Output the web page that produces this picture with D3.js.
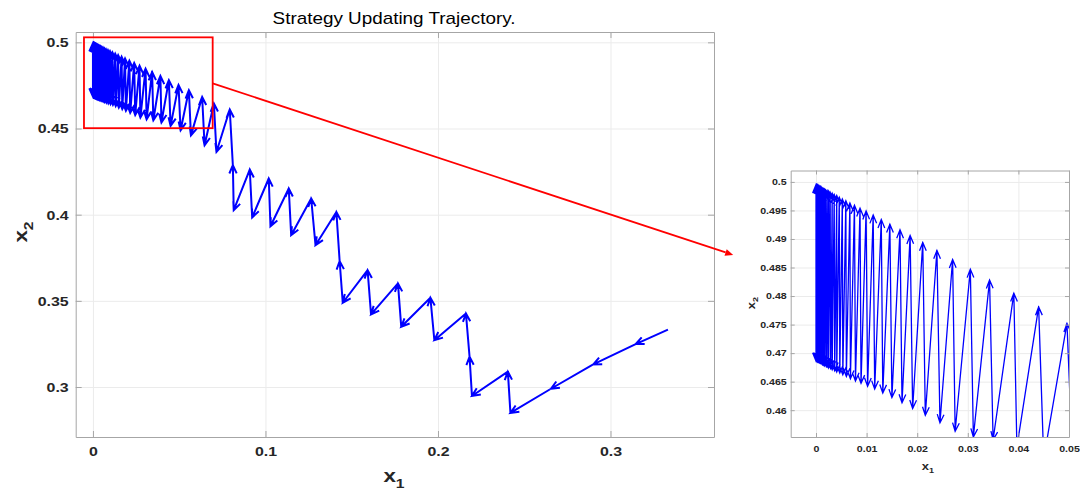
<!DOCTYPE html>
<html><head><meta charset="utf-8">
<script src="https://cdn.jsdelivr.net/npm/d3@7"></script>
<style>
body{margin:0;background:#fff;}
svg{display:block;font-family:"Liberation Sans",Arial,sans-serif;}
</style></head><body>
<svg id="c" width="1080" height="493"></svg>
<script>
// ---- data ----
const trajX = [
0.3333, 0.3146, 0.2900, 0.2655, 0.2420, 0.2405, 0.2197, 0.2183, 0.2162, 0.1979,
0.1956, 0.1787, 0.1768, 0.1612, 0.1592, 0.1448, 0.1430, 0.1411, 0.1290, 0.1265,
0.1149, 0.1135, 0.1029, 0.1019, 0.0923, 0.0909, 0.0816, 0.0811, 0.0793, 0.0716,
0.0701, 0.0647, 0.0633,
0.0568, 0.0556, 0.0508, 0.0496, 0.0450, 0.0440, 0.0397, 0.0391, 0.0350, 0.0343,
0.0311, 0.0305, 0.0275, 0.0270, 0.0245, 0.0239, 0.0216, 0.0211, 0.0191, 0.0186,
0.0170, 0.0166, 0.0150, 0.0146, 0.0132, 0.0129, 0.0116, 0.0113, 0.0102, 0.0099,
0.0089, 0.0087, 0.0078, 0.0076, 0.0068, 0.0067, 0.0060, 0.0059, 0.0053, 0.0052,
0.0047, 0.0046, 0.0041, 0.0041, 0.0037, 0.0036, 0.0032, 0.0032, 0.0029, 0.0028,
0.0025, 0.0025, 0.0022, 0.0022, 0.0020, 0.0019, 0.0017, 0.0017, 0.0015, 0.0015,
0.0013, 0.0013, 0.0012, 0.0011, 0.0010, 0.0010, 0.0009, 0.0009, 0.0008, 0.0007,
0.0007, 0.0006, 0.0006, 0.0005, 0.0005, 0.0004, 0.0004, 0.0004, 0.0003, 0.0003,
0.0003, 0.0002, 0.0002, 0.0002, 0.0001, 0.0001, 0.0001, 0.0000, 0.0000, 0.0000
];
const trajY = [
0.3333, 0.3249, 0.3131, 0.2990, 0.2850, 0.3089, 0.2948, 0.3176, 0.3427, 0.3272,
0.3518, 0.3350, 0.3601, 0.3421, 0.3678, 0.3489, 0.3730, 0.4016, 0.3823, 0.4094,
0.3881, 0.4152, 0.3933, 0.4210, 0.3984, 0.4262, 0.4026, 0.4287, 0.4610, 0.4364,
0.4645, 0.4403, 0.4683,
0.4460, 0.4722, 0.4490, 0.4752, 0.4515, 0.4781, 0.4535, 0.4805, 0.4548, 0.4828,
0.4553, 0.4847, 0.4563, 0.4864, 0.4578, 0.4880, 0.4591, 0.4894, 0.4603, 0.4906,
0.4613, 0.4916, 0.4622, 0.4926, 0.4630, 0.4934, 0.4637, 0.4942, 0.4642, 0.4949,
0.4647, 0.4954, 0.4651, 0.4959, 0.4655, 0.4963, 0.4659, 0.4967, 0.4662, 0.4970,
0.4665, 0.4973, 0.4667, 0.4976, 0.4669, 0.4978, 0.4671, 0.4980, 0.4673, 0.4982,
0.4674, 0.4984, 0.4676, 0.4985, 0.4677, 0.4986, 0.4678, 0.4987, 0.4679, 0.4988,
0.4680, 0.4989, 0.4681, 0.4990, 0.4682, 0.4991, 0.4683, 0.4992, 0.4683, 0.4992,
0.4684, 0.4993, 0.4684, 0.4993, 0.4685, 0.4994, 0.4685, 0.4994, 0.4685, 0.4994,
0.4686, 0.4995, 0.4686, 0.4995, 0.4686, 0.4995, 0.4686, 0.4995, 0.4686, 0.4995
];
const mainXTicks = [0, 0.1, 0.2, 0.3];
const mainYTicks = [0.3, 0.35, 0.4, 0.45, 0.5];
const insetXTicks = [0, 0.01, 0.02, 0.03, 0.04, 0.05];
const insetYTicks = [0.46, 0.465, 0.47, 0.475, 0.48, 0.485, 0.49, 0.495, 0.5];
const zoomBoxX = [-0.0052, 0.0694];
const zoomBoxY = [0.4502, 0.5029];
const titleText = "Strategy Updating Trajectory.";

// ---- layout ----
const SX = 1.18;            // horizontal stretch of the reference text
const svg = d3.select("#c");
const blue = "#0000ff";

function stretchText(sel){
  sel.each(function(){
    const t = d3.select(this);
    const x = +t.attr("x") || 0;
    t.attr("x", x / SX).attr("transform", `scale(${SX},1)`);
  });
}

function panel(o){
  const g = svg.append("g");
  const x = d3.scaleLinear().domain(o.xd).range([o.l, o.r]);
  const y = d3.scaleLinear().domain(o.yd).range([o.b, o.t]);
  const w = o.r - o.l, h = o.b - o.t;
  // grid
  g.append("g").attr("transform",`translate(0,${o.b})`)
    .call(d3.axisBottom(x).tickValues(o.xt).tickSize(-h).tickFormat(""))
    .call(a=>{a.select(".domain").remove(); a.selectAll("line").attr("stroke","#ebebeb").attr("stroke-width",1);});
  g.append("g").attr("transform",`translate(${o.l},0)`)
    .call(d3.axisLeft(y).tickValues(o.yt).tickSize(-w).tickFormat(""))
    .call(a=>{a.select(".domain").remove(); a.selectAll("line").attr("stroke","#ebebeb").attr("stroke-width",1);});
  // data
  const cid = "clip" + o.id;
  svg.append("clipPath").attr("id",cid).append("rect")
    .attr("x",o.l).attr("y",o.t).attr("width",w).attr("height",h);
  let p = "";
  const px = trajX.map(v=>x(v)), py = trajY.map(v=>y(v));
  for(let i=1;i<px.length;i++){
    const x0=px[i-1], y0=py[i-1], x1=px[i], y1=py[i];
    p += `M${x0},${y0}L${x1},${y1}`;
    const dx=x1-x0, dy=y1-y0;
    if (Math.hypot(dx,dy) < 0.01) continue;
    const a = Math.atan2(dy,dx);
    const L=o.head, th=o.ang*Math.PI/180;
    p += `M${x1-L*Math.cos(a-th)},${y1-L*Math.sin(a-th)}L${x1},${y1}L${x1-L*Math.cos(a+th)},${y1-L*Math.sin(a+th)}`;
  }
  g.append("path").attr("d",p).attr("fill","none").attr("stroke",blue)
    .attr("stroke-width",o.lw).attr("stroke-linejoin","miter").attr("stroke-linecap","butt")
    .attr("clip-path",`url(#${cid})`);
  // frame + ticks
  const fc = "#a6a6a6", ts = o.tick;
  const styleAxis = a=>{a.select(".domain").attr("stroke",fc); a.selectAll(".tick line").attr("stroke",fc);};
  g.append("g").attr("transform",`translate(0,${o.t})`)
    .call(d3.axisTop(x).tickValues(o.xt).tickSize(-ts).tickSizeOuter(0).tickFormat("")).call(styleAxis);
  g.append("g").attr("transform",`translate(${o.r},0)`)
    .call(d3.axisRight(y).tickValues(o.yt).tickSize(-ts).tickSizeOuter(0).tickFormat("")).call(styleAxis);
  const xa = g.append("g").attr("transform",`translate(0,${o.b})`)
    .call(d3.axisBottom(x).tickValues(o.xt).tickSize(-ts).tickSizeOuter(0).tickPadding(o.xpad).tickFormat(d3.format("~g")))
    .call(styleAxis);
  xa.selectAll("text").attr("font-family","Liberation Sans, Arial, sans-serif").attr("font-size",o.fs)
    .attr("font-weight","bold").attr("fill","#262626").call(stretchText);
  const ya = g.append("g").attr("transform",`translate(${o.l},0)`)
    .call(d3.axisLeft(y).tickValues(o.yt).tickSize(-ts).tickSizeOuter(0).tickPadding(o.ypad).tickFormat(d3.format("~g")))
    .call(styleAxis);
  ya.selectAll("text").attr("font-family","Liberation Sans, Arial, sans-serif").attr("font-size",o.fs)
    .attr("font-weight","bold").attr("fill","#262626").call(stretchText);
  // axis labels
  const xl = g.append("text").attr("text-anchor","middle").attr("font-weight","bold").attr("fill","#262626")
    .attr("transform",`translate(${o.xlab[0]},${o.xlab[1]}) scale(${SX},1)`);
  xl.append("tspan").attr("font-size",o.lfs).text("x");
  xl.append("tspan").attr("font-size",o.lfs*0.7).attr("dy",o.lfs*0.3).text("1");
  const yl = g.append("text").attr("text-anchor","middle").attr("font-weight","bold").attr("fill","#262626")
    .attr("transform",`translate(${o.ylab[0]},${o.ylab[1]}) rotate(-90) scale(${SX},1)`);
  yl.append("tspan").attr("font-size",o.lfs).text("x");
  yl.append("tspan").attr("font-size",o.lfs*0.7).attr("dy",o.lfs*0.3).text("2");
  return {x,y};
}

const M = panel({id:"m", l:75.7, r:714, t:32, b:437, xd:[-0.01,0.36], yd:[0.271,0.506],
  xt:mainXTicks, yt:mainYTicks, lw:2, head:9, ang:24, tick:6, fs:13.5, xpad:9, ypad:7,
  lfs:19, xlab:[394,482], ylab:[27,232]});
const I = panel({id:"i", l:790.7, r:1069, t:170.5, b:437, xd:[-0.005,0.05], yd:[0.4553,0.502],
  xt:insetXTicks, yt:insetYTicks, lw:1.3, head:9, ang:22, tick:4, fs:9, xpad:9, ypad:4,
  lfs:11, xlab:[928,470], ylab:[755,303]});

// title
svg.append("text").attr("text-anchor","middle").attr("font-size",16).attr("fill","#000")
  .attr("transform",`translate(394,23.5) scale(${SX},1)`).text(titleText);

// zoom rectangle and connector arrow
const rx0=M.x(zoomBoxX[0]), rx1=M.x(zoomBoxX[1]), ry0=M.y(zoomBoxY[1]), ry1=M.y(zoomBoxY[0]);
svg.append("rect").attr("x",rx0).attr("y",ry0).attr("width",rx1-rx0).attr("height",ry1-ry0)
  .attr("fill","none").attr("stroke","#ff0000").attr("stroke-width",1.8);
const s=[rx1, M.y(0.4762)], e=[I.x(-0.005)-57.5, I.y(0.4872)];
const ang=Math.atan2(e[1]-s[1], e[0]-s[0]);
const hl=8, hw=3.5;
const bx=e[0]-hl*Math.cos(ang), by=e[1]-hl*Math.sin(ang);
svg.append("line").attr("x1",s[0]).attr("y1",s[1]).attr("x2",bx).attr("y2",by)
  .attr("stroke","#ff0000").attr("stroke-width",1.8);
svg.append("path").attr("fill","#ff0000")
  .attr("d",`M${e[0]},${e[1]}L${bx+hw*Math.sin(ang)},${by-hw*Math.cos(ang)}L${bx-hw*Math.sin(ang)},${by+hw*Math.cos(ang)}Z`);
</script>
</body></html>
